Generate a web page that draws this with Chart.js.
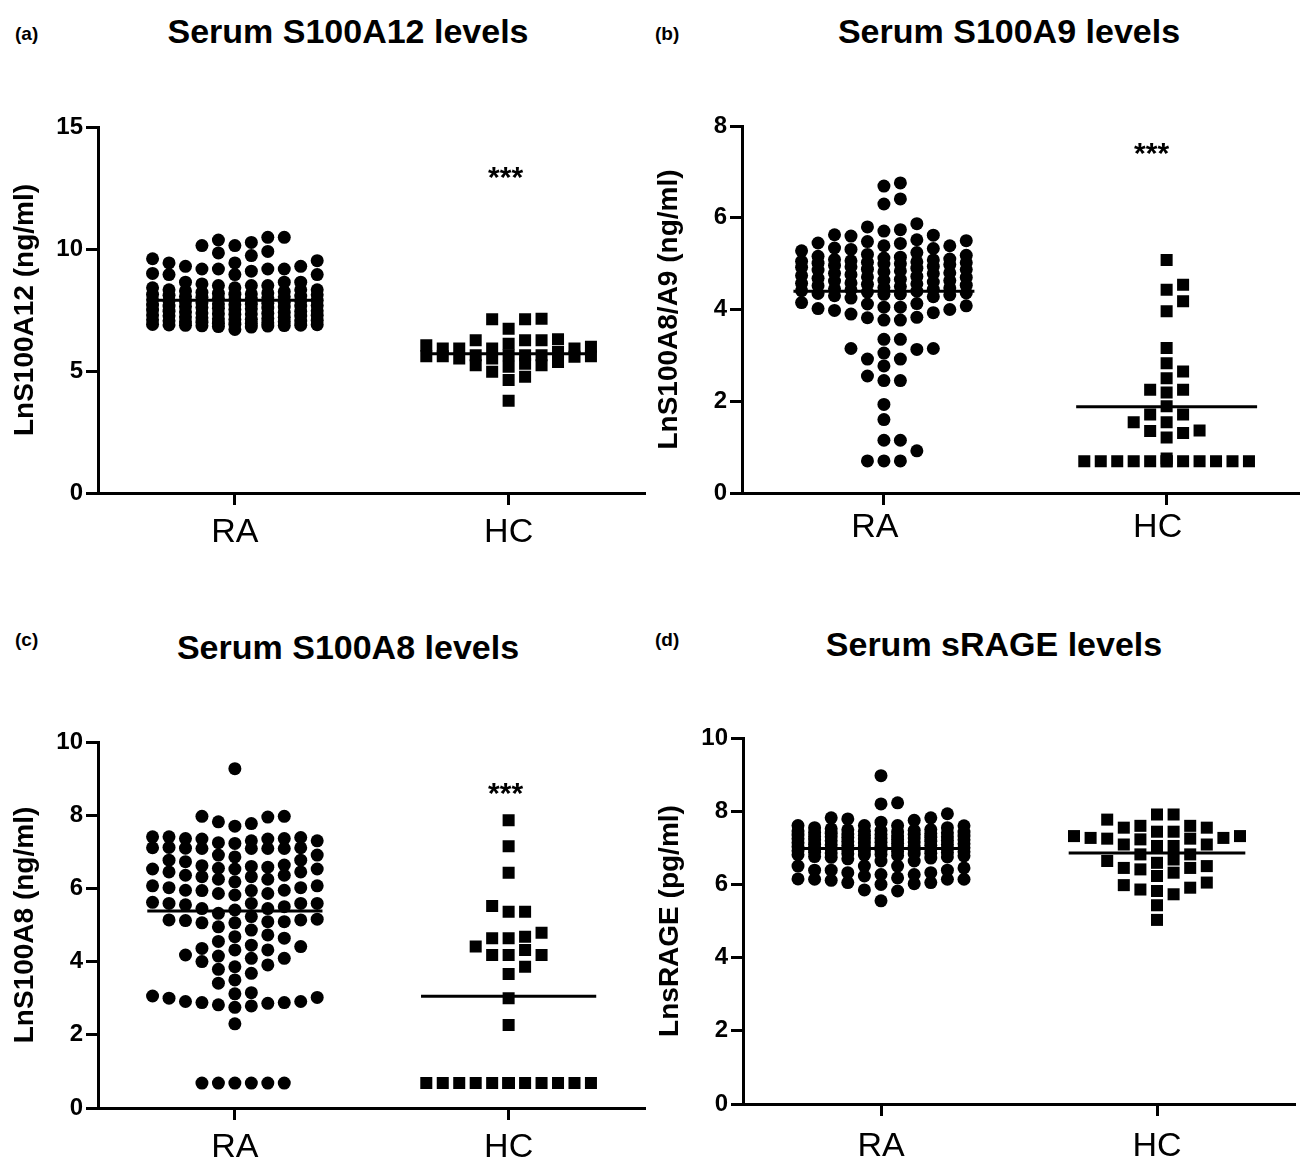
<!DOCTYPE html>
<html>
<head>
<meta charset="utf-8">
<script src="https://cdn.jsdelivr.net/npm/chart.js@4.4.0/dist/chart.umd.min.js"></script>
<style>
  body { margin: 0; background: #fff; }
  #page { position: relative; width: 1308px; height: 1163px; overflow: hidden; font-family: "Liberation Sans", Arial, sans-serif; color: #000; }
  canvas { position: absolute; }
  .title { position: absolute; font-size: 34px; font-weight: bold; line-height: 34px; white-space: nowrap; transform: translateX(-50%); }
  .tag { position: absolute; font-size: 19px; font-weight: bold; line-height: 19px; }
</style>
</head>
<body>
<div id="page">
  <div class="tag" style="left:15px;top:24px">(a)</div>
  <div class="title" style="left:348px;top:14px">Serum S100A12 levels</div>
  <div class="tag" style="left:655px;top:24px">(b)</div>
  <div class="title" style="left:1009px;top:14px">Serum S100A9 levels</div>
  <div class="tag" style="left:15px;top:630px">(c)</div>
  <div class="title" style="left:348px;top:630px">Serum S100A8 levels</div>
  <div class="tag" style="left:655px;top:630px">(d)</div>
  <div class="title" style="left:994px;top:627px">Serum sRAGE levels</div>
  <canvas id="chartA" width="654" height="575" style="left:0;top:0"></canvas>
  <canvas id="chartB" width="664" height="575" style="left:644px;top:0"></canvas>
  <canvas id="chartC" width="654" height="588" style="left:0;top:575px"></canvas>
  <canvas id="chartD" width="663" height="588" style="left:645px;top:575px"></canvas>
</div>
<script>
// Groups on the x axis
const groups = ['RA', 'HC'];

// (a) Serum S100A12, ln ng/ml
const s100a12RA = [10.48, 10.48, 10.37, 10.27, 10.14, 10.14, 9.90, 9.84, 9.73, 9.60, 9.52, 9.43, 9.43,
  9.29, 9.18, 9.18, 9.00, 8.95, 8.95, 8.95, 9.09, 9.18, 9.18, 9.29,
  8.41, 8.33, 8.33, 8.64, 8.57, 8.50, 8.50, 8.50, 8.64, 8.64, 8.33, 8.41,
  6.70, 6.80, 6.82, 6.84, 6.85, 6.86, 6.87, 6.88, 6.89, 6.90, 6.91, 6.92, 6.95,
  7.00, 7.02, 7.05, 7.06, 7.08, 7.10, 7.12, 7.14, 7.15, 7.18, 7.20, 7.22,
  7.25, 7.28, 7.30, 7.32, 7.34, 7.36, 7.38, 7.40, 7.42, 7.45, 7.47, 7.50,
  7.52, 7.55, 7.57, 7.60, 7.62, 7.64, 7.66, 7.68, 7.70, 7.72, 7.75,
  7.78, 7.80, 7.82, 7.85, 7.87, 7.90, 7.92, 7.95, 7.97, 8.00, 8.02,
  8.05, 8.07, 8.10, 8.12, 8.14, 8.16, 8.18, 8.20, 8.22, 8.25, 8.28,
  7.35, 7.58, 7.11, 6.96, 7.74, 7.44, 7.88, 8.04, 7.26, 6.98, 7.66, 7.93, 8.15, 7.02];
const s100a12HC = [7.14, 7.12, 7.12, 6.73, 6.26, 6.26, 6.26, 6.30, 6.12, 6.05, 5.99, 5.92, 5.92, 5.92, 5.92,
  5.65, 5.58, 5.51, 5.60, 5.65, 5.78, 5.65, 5.60, 5.51, 5.60, 5.65,
  5.24, 5.30, 5.17, 5.24, 5.37, 4.97, 4.76, 4.63, 3.78];
const s100a12Means = [7.9, 5.71];
const s100a12Ticks = [0, 5, 10, 15];

// (b) Serum S100A8/A9, ln ng/ml
const s100a9RA = [6.76, 6.69, 6.41, 6.30, 5.87, 5.80, 5.74, 5.71, 5.63, 5.62,
  5.60, 5.50, 5.45, 5.39, 5.33, 5.31, 5.34, 5.39, 5.44, 5.48, 5.52,
  4.12, 4.05, 4.00, 3.98, 4.15, 4.13, 4.08, 4.02, 4.05,
  3.90, 3.82, 3.77, 3.77, 3.83, 3.93,
  3.35, 3.35, 3.15, 3.05, 3.13, 3.15, 2.92, 2.92, 2.77, 2.45, 2.45, 2.55,
  1.93, 1.60, 1.15, 1.15, 0.92, 0.70, 0.70, 0.70,
  4.25, 4.28, 4.30, 4.32, 4.33, 4.35, 4.36, 4.38, 4.40, 4.41, 4.43,
  4.45, 4.47, 4.48, 4.50, 4.52, 4.53, 4.55, 4.57, 4.58, 4.60, 4.62,
  4.64, 4.66, 4.68, 4.70, 4.72, 4.74, 4.76, 4.78, 4.80, 4.82, 4.84,
  4.86, 4.88, 4.90, 4.92, 4.94, 4.96, 4.98, 5.00, 5.01, 5.02, 5.04,
  5.05, 5.06, 5.08, 5.10, 5.12, 5.14, 5.16, 5.18, 5.20, 5.24, 5.28,
  4.56, 4.71, 4.87, 4.99, 4.44, 4.63, 4.79, 5.03, 4.34, 4.93, 5.09];
const s100a9HC = [5.08, 4.54, 4.43, 4.18, 3.96, 3.16, 2.83, 2.65, 2.50, 2.25, 2.19, 2.25,
  1.89, 1.71, 1.71, 1.54, 1.54, 1.36, 1.31, 1.35, 1.21,
  0.69, 0.69, 0.69, 0.69, 0.69, 0.69, 0.69, 0.69, 0.69, 0.69, 0.69, 0.69, 0.75];
const s100a9Means = [4.4, 1.88];
const s100a9Ticks = [0, 2, 4, 6, 8];

// (c) Serum S100A8, ln ng/ml
const s100a8RA = [9.27,
  7.97, 7.95, 7.97, 7.82, 7.77, 7.70,
  7.41, 7.36, 7.35, 7.30, 7.25, 7.23, 7.30, 7.35, 7.36, 7.39, 7.41,
  7.11, 7.09, 7.09, 7.10, 7.12, 7.09, 7.09, 7.11,
  6.91, 6.77, 6.73, 6.77, 6.86, 6.91,
  6.62, 6.53, 6.53, 6.60, 6.55, 6.53, 6.58, 6.64,
  6.45, 6.25, 6.32, 6.32, 6.36, 6.36, 6.18, 6.45, 6.25,
  6.07, 6.02, 5.95, 5.94, 5.86, 5.82, 5.86, 5.94, 5.95, 6.02, 6.07,
  5.62, 5.59, 5.59, 5.45, 5.41, 5.55, 5.32, 5.50, 5.45, 5.59, 5.59,
  5.23, 5.14, 5.09, 5.06, 5.12, 4.86, 4.95, 5.09, 5.06, 5.14, 5.16,
  4.68, 4.55, 4.41, 4.36, 4.45, 4.64, 4.73,
  4.32, 4.15, 4.09, 3.91, 4.00, 4.09, 4.18, 4.32,
  3.79, 3.68, 3.86, 3.50, 3.41,
  3.15, 3.12,
  3.06, 3.00, 2.91, 2.86, 2.82, 2.75, 2.79, 2.88, 2.88, 2.91, 3.02,
  2.30,
  0.68, 0.68, 0.68, 0.68, 0.68, 0.68];
const s100a8HC = [7.86, 7.15, 6.43, 5.52, 5.36, 5.36, 4.79, 4.68, 4.64, 4.64, 4.41, 4.32,
  4.18, 4.18, 4.18, 3.86, 3.66, 3.00, 2.27,
  0.68, 0.68, 0.68, 0.68, 0.68, 0.68, 0.68, 0.68, 0.68, 0.68, 0.68, 0.68, 0.68, 0.68, 0.68];
const s100a8Means = [5.38, 3.05];
const s100a8Ticks = [0, 2, 4, 6, 8, 10];

// (d) Serum sRAGE, ln pg/ml
const sRageRA = [8.97, 8.20, 8.23, 7.93, 7.82,
  7.82, 7.75, 7.79, 7.70,
  7.55, 7.55, 7.61, 7.61, 7.60, 7.61, 7.52,
  6.64, 6.64,
  6.50, 6.39, 6.39, 6.32, 6.50, 6.32, 6.39, 6.45, 6.50,
  6.18, 6.14, 6.11, 6.05, 6.27, 6.27, 6.14, 6.14, 6.15, 6.23,
  6.00, 6.02, 6.05, 5.85, 5.82, 5.55,
  6.70, 6.72, 6.74, 6.75, 6.76, 6.78, 6.80, 6.81, 6.82, 6.84, 6.85,
  6.86, 6.88, 6.89, 6.90, 6.92, 6.93, 6.94, 6.95, 6.96, 6.97, 6.98,
  7.00, 7.01, 7.02, 7.04, 7.05, 7.06, 7.08, 7.09, 7.10, 7.12, 7.13,
  7.14, 7.15, 7.16, 7.18, 7.19, 7.20, 7.22, 7.23, 7.24, 7.25, 7.26,
  7.28, 7.29, 7.30, 7.32, 7.33, 7.34, 7.35, 7.36, 7.38, 7.39, 7.40,
  7.41, 7.42, 7.43, 7.44, 7.45, 7.46, 7.47, 7.48, 7.49, 7.50, 7.30,
  6.91, 7.07, 7.21, 6.87, 7.11, 7.27, 6.99, 7.17, 7.37, 6.79, 7.03, 7.31, 6.83];
const sRageHC = [7.91, 7.91, 7.77, 7.60, 7.60,
  7.55, 7.44, 7.44, 7.55,
  7.32, 7.27, 7.27, 7.32,
  7.25, 7.23, 7.25,
  7.09, 7.05, 7.05, 7.09,
  6.82, 6.82,
  6.59, 6.50, 6.68, 6.64, 6.45,
  6.45, 6.41, 6.32,
  6.23, 6.05,
  5.91, 5.82, 5.73, 5.98, 5.86,
  5.43, 5.03];
const sRageMeans = [6.98, 6.86];
const sRageTicks = [0, 2, 4, 6, 8, 10];

// significance marks above HC
const sigText = ['***', '***', '***', ''];
const sigLevel = [13.22, 7.56, 8.8, null];

const FONT = '"Liberation Sans", Arial, sans-serif';

// lay points out in columns like a scatter dot plot (column stacking, no overlap where possible)
function swarm(values, center, slot, pxPerUnit) {
  const minDist = 12.5;
  const cols = {};
  const order = [0];
  for (let k = 1; k <= 5; k++) order.push(k, -k);
  return values.slice().sort((a, b) => a - b).map(v => {
    const py = v * pxPerUnit;
    let best = 0, bestGap = -1;
    for (const k of order) {
      const ys = cols[k] || [];
      const gap = ys.length ? Math.min(...ys.map(o => Math.abs(o - py))) : Infinity;
      if (gap >= minDist) { best = k; break; }
      if (gap > bestGap) { bestGap = gap; best = k; }
    }
    (cols[best] = cols[best] || []).push(py);
    return { x: center + best * slot, y: v };
  });
}

function drawPanel(p) {
  const [l, t, r, b] = p.area;
  const yMax = p.ticks[p.ticks.length - 1];
  const pxY = (b - t) / yMax;
  const slot = 16.6 / ((r - l) / (p.xRange[1] - p.xRange[0]));
  const meanLine = (i) => [{ x: i + 1 - 0.32, y: p.means[i] }, { x: i + 1 + 0.32, y: p.means[i] }];
  const xHeight = p.top + p.height - b;

  const sigPlugin = {
    id: 'sig',
    afterDatasetsDraw(chart) {
      if (!p.sig) return;
      const { ctx, scales } = chart;
      ctx.save();
      ctx.font = 'bold 30px ' + FONT;
      ctx.fillStyle = '#000';
      ctx.textAlign = 'center';
      ctx.textBaseline = 'alphabetic';
      ctx.fillText(p.sig, scales.x.getPixelForValue(2) + p.sigShift, scales.y.getPixelForValue(p.sigAt) + 17);
      ctx.restore();
    }
  };

  new Chart(document.getElementById(p.id), {
    type: 'scatter',
    data: {
      datasets: [
        { data: swarm(p.ra, 1, slot, pxY), pointStyle: 'circle', pointRadius: 6.5, pointBackgroundColor: '#000', pointBorderWidth: 0 },
        { data: swarm(p.hc, 2, slot, pxY), pointStyle: 'rect', pointRadius: 8.5, pointBackgroundColor: '#000', pointBorderWidth: 0 },
        { data: meanLine(0), showLine: true, borderColor: '#000', borderWidth: 3, pointRadius: 0 },
        { data: meanLine(1), showLine: true, borderColor: '#000', borderWidth: 3, pointRadius: 0 }
      ]
    },
    options: {
      responsive: false,
      animation: false,
      devicePixelRatio: 1,
      layout: { padding: { left: 0, top: t - p.top, right: p.left + p.width - r, bottom: 0 } },
      plugins: { legend: { display: false }, tooltip: { enabled: false } },
      scales: {
        x: {
          type: 'linear', min: p.xRange[0], max: p.xRange[1],
          afterBuildTicks: s => { s.ticks = groups.map((g, i) => ({ value: i + 1 })); },
          afterFit: s => { s.height = xHeight; },
          ticks: {
            callback: v => groups[v - 1], color: '#000', padding: p.labelPad, labelOffset: p.labelShift || 0,
            autoSkip: false, maxRotation: 0, font: { family: FONT, size: 34 }
          },
          grid: { drawOnChartArea: false, tickLength: 12, tickWidth: 3, tickColor: '#000' },
          border: { color: '#000', width: 3 }
        },
        y: {
          min: 0, max: yMax,
          afterBuildTicks: s => { s.ticks = p.ticks.map(v => ({ value: v })); },
          afterFit: s => { s.width = l - p.left; },
          ticks: { color: '#000', padding: 3, font: { family: FONT, size: 24, weight: 'bold' } },
          grid: { drawOnChartArea: false, tickLength: 12, tickWidth: 3, tickColor: '#000' },
          border: { color: '#000', width: 3 },
          title: { display: true, text: p.yTitle, color: '#000', padding: { top: 8.5, bottom: 0 }, font: { family: FONT, size: 28, weight: 'bold' } }
        }
      }
    },
    plugins: [sigPlugin]
  });
}

const panels = [
  { id: 'chartA', left: 0, top: 0, width: 654, height: 575, area: [98, 127, 650, 493], xRange: [0.5, 2.5], labelPad: 7,
    ra: s100a12RA, hc: s100a12HC, means: s100a12Means, ticks: s100a12Ticks, yTitle: 'LnS100A12 (ng/ml)',
    sig: sigText[0], sigAt: sigLevel[0], sigShift: -3 },
  { id: 'chartB', left: 644, top: 0, width: 664, height: 575, area: [742, 126, 1304, 493], xRange: [0.498, 2.47], labelPad: 2, labelShift: -9,
    ra: s100a9RA, hc: s100a9HC, means: s100a9Means, ticks: s100a9Ticks, yTitle: 'LnS100A8/A9 (ng/ml)',
    sig: sigText[1], sigAt: sigLevel[1], sigShift: -15 },
  { id: 'chartC', left: 0, top: 575, width: 654, height: 588, area: [98, 742, 650, 1108], xRange: [0.5, 2.5], labelPad: 7,
    ra: s100a8RA, hc: s100a8HC, means: s100a8Means, ticks: s100a8Ticks, yTitle: 'LnS100A8 (ng/ml)',
    sig: sigText[2], sigAt: sigLevel[2], sigShift: -3 },
  { id: 'chartD', left: 645, top: 575, width: 663, height: 588, area: [743, 738, 1295, 1104], xRange: [0.5, 2.5], labelPad: 10,
    ra: sRageRA, hc: sRageHC, means: sRageMeans, ticks: sRageTicks, yTitle: 'LnsRAGE (pg/ml)',
    sig: sigText[3], sigAt: sigLevel[3], sigShift: 0 }
];

panels.forEach(drawPanel);
</script>
</body>
</html>
